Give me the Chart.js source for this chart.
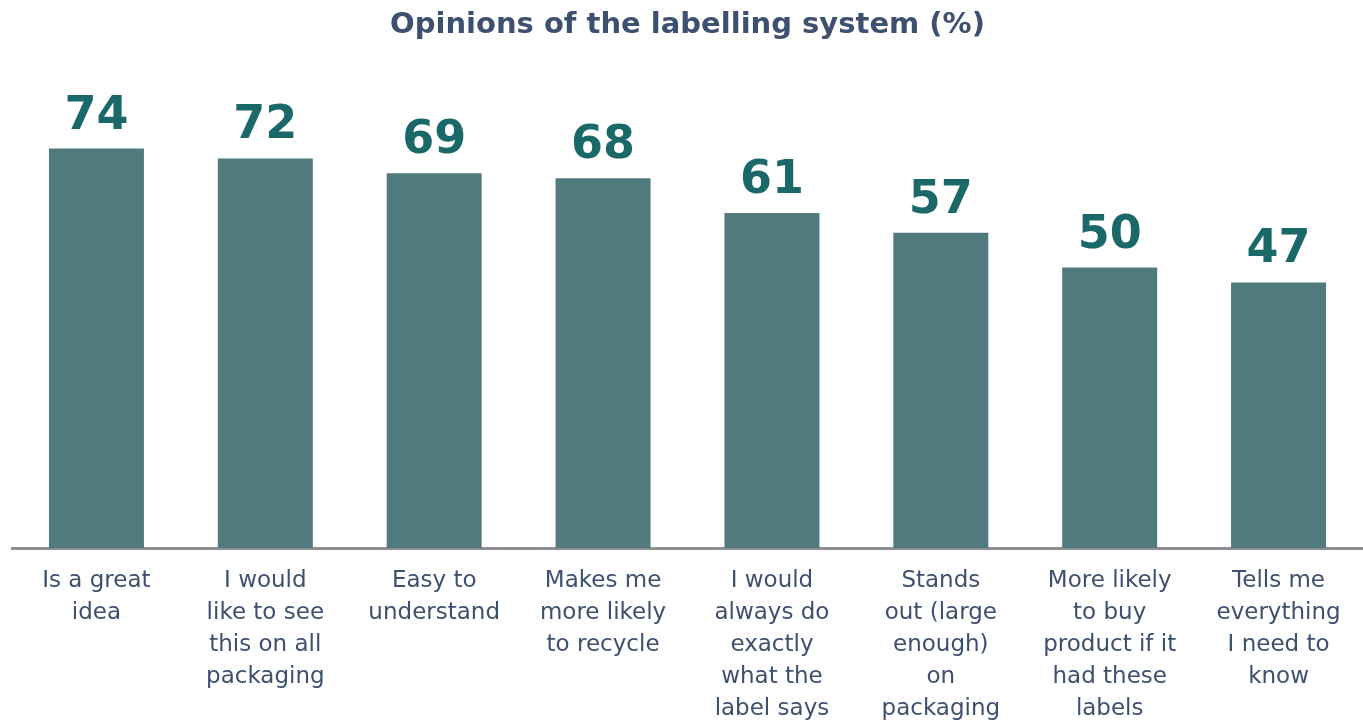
<html>
<head>
  <script src="https://cdn.jsdelivr.net/npm/chart.js@4.4.0/dist/chart.umd.min.js"></script>
  <style>
    body { margin:0; background:#fff; }
    #wrap { width:1363px; height:722px; }
  </style>
</head>
<body>
  <div id="wrap"><canvas id="bar-chart"></canvas></div>

  <script>
  // chart data
  var categories = [
    ["Is a great", "idea"],
    ["I would", "like to see", "this on all", "packaging"],
    ["Easy to", "understand"],
    ["Makes me", "more likely", "to recycle"],
    ["I would", "always do", "exactly", "what the", "label says"],
    ["Stands", "out (large", "enough)", "on", "packaging"],
    ["More likely", "to buy", "product if it", "had these", "labels"],
    ["Tells me", "everything", "I need to", "know"]
  ];
  var percents = [74, 72, 69, 68, 61, 57, 50, 47];

  var barColor = "#517a7f";
  var valueColor = "#1b6869";
  var textColor = "#3e5070";
  var axisBase = -6.6;

  // draws the big numbers above each bar
  var valueLabels = {
    id: 'valueLabels',
    afterDatasetsDraw: function(chart) {
      var ctx = chart.ctx;
      var meta = chart.getDatasetMeta(0);
      ctx.save();
      ctx.fillStyle = valueColor;
      ctx.font = "bold 46px 'DejaVu Sans'";
      ctx.textAlign = "center";
      ctx.textBaseline = "alphabetic";
      for (var i = 0; i < meta.data.length; i++) {
        var bar = meta.data[i];
        ctx.fillText(percents[i], bar.x, bar.y - 20);
      }
      ctx.restore();
    }
  };

  new Chart(document.getElementById("bar-chart"), {
    type: 'bar',
    data: {
      labels: categories,
      datasets: [{
        data: percents,
        backgroundColor: barColor,
        base: axisBase,
        barPercentage: 0.5625,
        categoryPercentage: 1
      }]
    },
    options: {
      responsive: true,
      maintainAspectRatio: false,
      animation: false,
      layout: { padding: { left: 12, right: 0, top: 0, bottom: -12 } },
      plugins: {
        legend: { display: false },
        tooltip: { enabled: false },
        title: {
          display: true,
          text: 'Opinions of the labelling system (%)',
          color: textColor,
          font: { family: 'DejaVu Sans', size: 29, weight: 'bold' },
          padding: { top: 8, bottom: 20 }
        }
      },
      scales: {
        x: {
          grid: { display: false },
          border: { display: true, color: '#8e8e94', width: 3 },
          ticks: {
            color: textColor,
            font: { family: 'DejaVu Sans', size: 23, lineHeight: 1.39 },
            padding: 9,
            maxRotation: 0,
            autoSkip: false
          }
        },
        y: {
          display: false,
          min: axisBase,
          max: 91.3
        }
      }
    },
    plugins: [valueLabels]
  });
  </script>
</body>
</html>
